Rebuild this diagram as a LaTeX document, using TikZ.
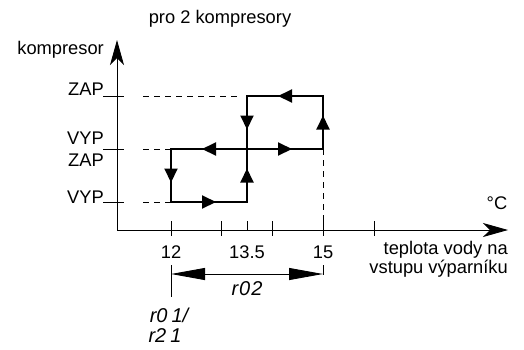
\documentclass[tikz,border=0pt]{standalone}
\usepackage{fontspec}
\setmainfont{Liberation Sans}
\usetikzlibrary{arrows.meta,decorations.markings}
\begin{document}
\begin{tikzpicture}[x=1pt,y=-1pt,
  txt/.style={inner sep=0pt,font=\fontsize{18.3}{17}\selectfont},
  seg/.style={inner sep=0pt,font=\fontsize{20}{20}\selectfont\itshape},
  axis/.style={line width=0.9pt,-{Stealth[length=25pt,width=14pt,inset=7pt]}},
  tick/.style={line width=0.9pt},
  dsh/.style={line width=0.9pt,dash pattern=on 6pt off 5pt},
  loopline/.style={line width=2pt,line cap=rect},
  midarrow/.style={postaction={decorate},decoration={markings,
     mark=at position 0.5 with {\arrow[xshift=7pt]{Triangle[length=14pt,width=13pt]}}}},
  dim/.style={line width=0.9pt}]
\useasboundingbox (0,0) rectangle (524,349);
% axes
\coordinate (O) at (117,230);
\coordinate (Ytop) at (117,40);
\coordinate (Xend) at (508,230);
\draw[axis] (O) -- (Ytop);
\draw[axis] (O) -- (Xend);
% y ticks
\foreach \y/\n in {96/y1,149/y2,202/y3}{
  \coordinate (\n l) at (103,\y);
  \coordinate (\n r) at (124,\y);
  \draw[tick] (\n l) -- (\n r);
}
% x ticks
\foreach \x/\n in {171/x1,221/x2,272/x4,323/x5,374/x6}{
  \coordinate (\n t) at (\x,221);
  \coordinate (\n b) at (\x,236);
  \draw[tick] (\n t) -- (\n b);
}
\coordinate (x3t) at (247,221);
\coordinate (x3b) at (247,230);
\draw[tick] (x3t) -- (x3b);
% loop coordinates
\coordinate (A) at (171,202);
\coordinate (B) at (247,202);
\coordinate (C) at (247,149);
\coordinate (D) at (171,149);
\coordinate (E) at (323,149);
\coordinate (F) at (323,96);
\coordinate (G) at (247,96);
% dashed guides
\coordinate (d1) at (143,96);
\coordinate (d1e) at (237,96);
\coordinate (d2) at (143,149);
\coordinate (d3) at (143,202);
\draw[dsh] (d1) -- (d1e);
\draw[dsh] (d2) -- (D);
\draw[dsh] (d3) -- (A);
\draw[dsh] (E) -- (x5t);
% loop
\draw[loopline,midarrow] (A) -- (B);
\draw[loopline,midarrow] (B) -- (C);
\draw[loopline,midarrow] (C) -- (D);
\draw[loopline,midarrow] (D) -- (A);
\draw[loopline,midarrow] (C) -- (E);
\draw[loopline,midarrow] (E) -- (F);
\draw[loopline,midarrow] (F) -- (G);
\draw[loopline,midarrow] (G) -- (C);
% labels
\node[txt] (title) at (220,19) {pro 2 kompresory};
\node[txt,anchor=east] (ylab) at (104,50) {kompresor};
\node[txt,anchor=east] (zap1) at (104,89) {ZAP};
\node[txt,anchor=east] (vyp1) at (104,138) {VYP};
\node[txt,anchor=east] (zap2) at (104,160) {ZAP};
\node[txt,anchor=east] (vyp2) at (104,197) {VYP};
\node[txt] (degc) at (497,203) {°C};
\node[txt] (n12) at (171,252) {12};
\node[txt] (n135) at (247,252) {13.5};
\node[txt] (n15) at (323,252) {15};
\node[txt,anchor=north east,align=right] (xlab) at (508,241.5) {teplota vody na\\vstupu výparníku};
% dimension
\coordinate (L1) at (171,265);
\coordinate (L2) at (171,297);
\coordinate (R1) at (323,265);
\coordinate (R2) at (323,275);
\coordinate (HL) at (171,274);
\coordinate (HR) at (323,274);
\draw[dim] (L1) -- (L2);
\draw[dim] (R1) -- (R2);
\draw[dim,{Triangle[length=34pt,width=12pt]}-{Triangle[length=34pt,width=12pt]}] (HL) -- (HR);
\node[seg] (r02) at (247,289) {r\kern1pt0\kern1pt2};
\node[seg] (r01) at (169,315) {r0\kern4pt1/};
\node[seg] (r21) at (165,336) {r2\kern4pt1};
\end{tikzpicture}
\end{document}
